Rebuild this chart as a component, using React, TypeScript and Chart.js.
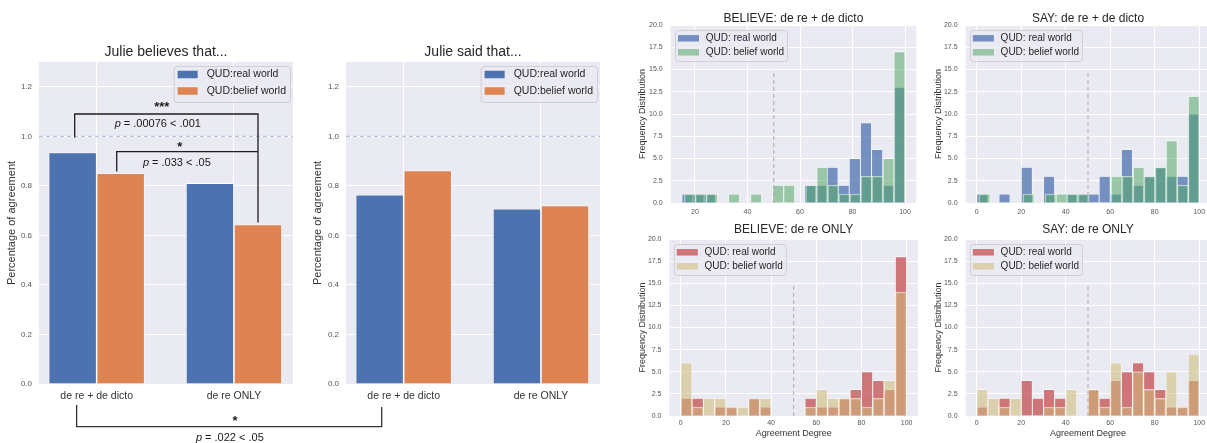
import React, { useEffect, useRef } from 'react';
import { Chart, registerables } from 'chart.js';

Chart.register(...registerables);

const FONT = '"Liberation Sans", Arial, Helvetica, sans-serif';
Chart.defaults.font.family = FONT;

// ---------------- data ----------------
const CATEGORIES = ['de re + de dicto', 'de re ONLY'];
const BAR_SERIES = ['QUD:real world', 'QUD:belief world'];
const BAR_TITLES = ['Julie believes that...', 'Julie said that...'];
const BELIEVE_REAL = [0.935, 0.811];
const BELIEVE_BELIEF = [0.851, 0.644];
const SAY_REAL = [0.764, 0.708];
const SAY_BELIEF = [0.862, 0.721];
const BAR_Y_TICKS = [0, 0.2, 0.4, 0.6, 0.8, 1.0, 1.2];
const BAR_Y_MAX = 1.3;
const FULL_AGREEMENT = 1.0;

const HIST_SERIES = ['QUD: real world', 'QUD: belief world'];
const HIST_TITLES = ['BELIEVE: de re + de dicto', 'SAY: de re + de dicto', 'BELIEVE: de re ONLY', 'SAY: de re ONLY'];
const HIST_Y_TICKS = [0, 2.5, 5, 7.5, 10, 12.5, 15, 17.5, 20];
const HIST_X_TICKS_BELIEVE_BOTH = [20, 40, 60, 80, 100];
const HIST_X_TICKS = [0, 20, 40, 60, 80, 100];
const MIDPOINT = 50;
const MIDLINE_TOP = 15;

// 20 bins per series; range = [min, max] rating of that series
const BELIEVE_BOTH_REAL_RANGE = [15, 100];
const BELIEVE_BOTH_REAL = [1, 1, 1, 0, 0, 0, 0, 0, 0, 0, 0, 2, 2, 4, 2, 5, 9, 6, 2, 13];
const BELIEVE_BOTH_BELIEF_RANGE = [16, 100];
const BELIEVE_BOTH_BELIEF = [1, 1, 1, 0, 1, 0, 1, 0, 2, 2, 0, 2, 4, 2, 1, 1, 3, 3, 5, 17];
const SAY_BOTH_REAL_RANGE = [0, 100];
const SAY_BOTH_REAL = [1, 0, 1, 0, 4, 0, 3, 0, 1, 1, 1, 3, 1, 6, 2, 3, 4, 3, 3, 10];
const SAY_BOTH_BELIEF_RANGE = [1, 100];
const SAY_BOTH_BELIEF = [1, 0, 0, 0, 1, 0, 1, 1, 1, 1, 0, 0, 3, 3, 4, 3, 4, 7, 2, 12];
const BELIEVE_ONLY_REAL_RANGE = [0, 100];
const BELIEVE_ONLY_REAL = [2, 2, 0, 1, 1, 0, 2, 1, 0, 0, 0, 2, 1, 1, 2, 3, 5, 4, 3, 18];
const BELIEVE_ONLY_BELIEF_RANGE = [0, 100];
const BELIEVE_ONLY_BELIEF = [6, 1, 2, 2, 1, 1, 2, 2, 0, 0, 0, 1, 3, 2, 2, 2, 1, 2, 4, 14];
const SAY_ONLY_REAL_RANGE = [0, 100];
const SAY_ONLY_REAL = [1, 0, 2, 0, 4, 2, 3, 2, 0, 0, 3, 2, 4, 5, 6, 5, 3, 1, 1, 4];
const SAY_ONLY_BELIEF_RANGE = [0, 100];
const SAY_ONLY_BELIEF = [3, 2, 1, 2, 0, 0, 1, 1, 3, 0, 3, 1, 6, 1, 5, 3, 2, 5, 1, 7];

const SIG_STARS = ['***', '*', '*'];
const SIG_P = ['.00076 < .001', '.033 < .05', '.022 < .05'];

// ---------------- layout / style ----------------
const BOXES: any = {
  c1: { x: 0, y: 0, w: 300, h: 410, l: 39, t: 62, r: 293, b: 384 },
  c2: { x: 300, y: 0, w: 305, h: 410, l: 346, t: 62, r: 600, b: 384 },
  h1: { x: 610, y: 0, w: 310, h: 222, l: 670.7, t: 25, r: 916.2, b: 203 },
  h2: { x: 915, y: 0, w: 300, h: 222, l: 965.6, t: 25, r: 1210.4, b: 203 },
  h3: { x: 610, y: 222, w: 310, h: 221, l: 669.5, t: 239, r: 917.9, b: 416 },
  h4: { x: 915, y: 222, w: 300, h: 221, l: 965.6, t: 239, r: 1210.4, b: 416 },
};
const PANEL_IDS = ['c1', 'c2', 'h1', 'h2', 'h3', 'h4'];
const BAR_X_LIM = [-0.42, 1.43];
const BG = '#EAEAF2';
const BLUE = '#4C72B0';
const ORANGE = '#DD8452';
const H_BLUE = 'rgba(76,114,176,0.75)';
const H_GREEN = 'rgba(85,168,104,0.55)';
const H_RED = 'rgba(196,78,82,0.75)';
const H_BEIGE = 'rgba(204,185,116,0.55)';

const BAR_LEGEND = { fs: 10.5, padL: 4, sw: 20, sh: 7.5, gap: 9, padR: 4, h: 36, first: 8.5, rowH: 16.5, top: 4, inset: 3, side: 'right' };
const HIST_LEGEND = { fs: 10, padL: 3, sw: 21, sh: 6.5, gap: 6.7, padR: 3, h: 31, first: 8.3, rowH: 14, top: 5, inset: 4.3, side: 'left' };

function drawLegend(chart: any, L: any) {
  const { ctx, chartArea: a } = chart;
  const ds = chart.data.datasets;
  ctx.save();
  ctx.font = `${L.fs}px ${FONT}`;
  const tw = Math.max(...ds.map((d: any) => ctx.measureText(d.label).width));
  const w = L.padL + L.sw + L.gap + tw + L.padR;
  const x0 = L.side === 'right' ? a.right - L.inset - w : a.left + L.inset;
  const y0 = a.top + L.top;
  ctx.beginPath();
  if (ctx.roundRect) ctx.roundRect(x0 + 0.5, y0 + 0.5, w, L.h, 3);
  else ctx.rect(x0 + 0.5, y0 + 0.5, w, L.h);
  ctx.fillStyle = 'rgba(234,234,242,0.8)';
  ctx.fill();
  ctx.strokeStyle = '#cfcfd4';
  ctx.lineWidth = 1;
  ctx.stroke();
  ds.forEach((d: any, i: number) => {
    const cy = y0 + L.first + i * L.rowH;
    ctx.fillStyle = d.backgroundColor;
    ctx.fillRect(x0 + L.padL, cy - L.sh / 2, L.sw, L.sh);
    ctx.fillStyle = '#262626';
    ctx.textAlign = 'left';
    ctx.textBaseline = 'middle';
    ctx.fillText(d.label, x0 + L.padL + L.sw + L.gap, cy);
  });
  ctx.restore();
}

function decor(cfg: any) {
  return {
    id: 'decor',
    beforeDraw(chart: any) {
      const { ctx, chartArea: a } = chart;
      ctx.save();
      ctx.fillStyle = BG;
      ctx.fillRect(a.left, a.top, a.right - a.left, a.bottom - a.top);
      ctx.fillStyle = '#262626';
      ctx.font = `${cfg.titleSize}px ${FONT}`;
      ctx.textAlign = 'center';
      ctx.textBaseline = 'middle';
      ctx.fillText(cfg.title, (a.left + a.right) / 2, cfg.titleY);
      ctx.restore();
    },
    afterDatasetsDraw(chart: any) {
      const { ctx, chartArea: a, scales } = chart;
      ctx.save();
      ctx.setLineDash([4, 3]);
      ctx.lineWidth = 1;
      ctx.beginPath();
      if (cfg.hLine !== undefined) {
        const y = scales.y.getPixelForValue(cfg.hLine);
        ctx.strokeStyle = '#a3b2d8';
        ctx.moveTo(a.left, y);
        ctx.lineTo(a.right, y);
      }
      if (cfg.vLine !== undefined) {
        const x = scales.x.getPixelForValue(cfg.vLine);
        ctx.strokeStyle = '#a9a9ad';
        ctx.moveTo(x, scales.y.getPixelForValue(0));
        ctx.lineTo(x, scales.y.getPixelForValue(cfg.vTop));
      }
      ctx.stroke();
      ctx.restore();
    },
    afterDraw(chart: any) {
      drawLegend(chart, cfg.legend);
    },
  };
}

function barChart(canvas: HTMLCanvasElement, box: any, title: string, real: number[], belief: number[], yTitlePad: number) {
  const mk = (v: number[]) => v.map((y, i) => ({ x: i, y }));
  const common = { borderColor: '#ffffff', borderWidth: 0.8, categoryPercentage: 0.7, barPercentage: 1 };
  return new Chart(canvas, {
    type: 'bar',
    data: {
      datasets: [
        { label: BAR_SERIES[0], data: mk(real), backgroundColor: BLUE, ...common },
        { label: BAR_SERIES[1], data: mk(belief), backgroundColor: ORANGE, ...common },
      ],
    } as any,
    options: {
      responsive: false,
      animation: false,
      devicePixelRatio: 1,
      layout: { padding: { left: 0, top: box.t - box.y, right: box.x + box.w - box.r, bottom: 0 } },
      scales: {
        x: {
          type: 'linear', min: BAR_X_LIM[0], max: BAR_X_LIM[1], offset: false,
          afterBuildTicks: (s: any) => { s.ticks = CATEGORIES.map((_, i) => ({ value: i })); },
          grid: { color: '#ffffff', lineWidth: 1, drawTicks: false, offset: false },
          border: { display: false },
          ticks: { padding: 5.7, color: '#333333', font: { size: 10.5 }, maxRotation: 0, autoSkip: false, callback: (v: any) => CATEGORIES[v] ?? '' },
          afterFit: (s: any) => { s.height = box.y + box.h - box.b; },
        },
        y: {
          type: 'linear', min: 0, max: BAR_Y_MAX,
          afterBuildTicks: (s: any) => { s.ticks = BAR_Y_TICKS.map((v) => ({ value: v })); },
          grid: { color: '#ffffff', lineWidth: 1, drawTicks: false },
          border: { display: false },
          ticks: { padding: 7, color: '#555555', font: { size: 8 }, callback: (v: any) => Number(v).toFixed(1) },
          title: { display: true, text: 'Percentage of agreement', color: '#333333', font: { size: 11 }, padding: { top: yTitlePad, bottom: 0 } },
          afterFit: (s: any) => { s.width = box.l - box.x; },
        },
      },
      plugins: { legend: { display: false }, tooltip: { enabled: false }, title: { display: false } },
    } as any,
    plugins: [decor({ title, titleY: 52 - box.y, titleSize: 14, hLine: FULL_AGREEMENT, legend: BAR_LEGEND })],
  });
}

function binData(counts: number[], range: number[]) {
  const w = (range[1] - range[0]) / counts.length;
  return counts.map((c, i) => ({ x: range[0] + w * (i + 0.5), y: c }));
}

function histChart(canvas: HTMLCanvasElement, box: any, cfg: any) {
  const lo = Math.min(cfg.realRange[0], cfg.beliefRange[0]);
  const hi = Math.max(cfg.realRange[1], cfg.beliefRange[1]);
  const m = (hi - lo) * 0.05;
  const xmin = lo - m;
  const xmax = hi + m;
  const setTicks = (s: any) => { s.ticks = cfg.xTicks.map((v: number) => ({ value: v })); };
  const common = { grouped: false, categoryPercentage: 1, barPercentage: 1, borderColor: 'rgba(255,255,255,0.65)', borderWidth: 0.8 };
  return new Chart(canvas, {
    type: 'bar',
    data: {
      datasets: [
        { label: HIST_SERIES[0], data: binData(cfg.real, cfg.realRange), xAxisID: 'x', backgroundColor: cfg.colors[0], order: 2, ...common },
        { label: HIST_SERIES[1], data: binData(cfg.belief, cfg.beliefRange), xAxisID: 'x2', backgroundColor: cfg.colors[1], order: 1, ...common },
      ],
    } as any,
    options: {
      responsive: false,
      animation: false,
      devicePixelRatio: 1,
      layout: { padding: { left: 0, top: box.t - box.y, right: box.x + box.w - box.r, bottom: 0 } },
      scales: {
        x: {
          type: 'linear', min: xmin, max: xmax, offset: false, position: 'bottom',
          afterBuildTicks: setTicks,
          grid: { color: '#ffffff', lineWidth: 1, drawTicks: false, offset: false },
          border: { display: false },
          ticks: { padding: cfg.xTickPad, color: '#555555', font: { size: 7 }, maxRotation: 0, autoSkip: false, callback: (v: any) => String(v) },
          title: { display: !!cfg.xTitle, text: cfg.xTitle || '', color: '#333333', font: { size: 9 }, padding: { top: 0, bottom: 3.6 } },
          afterFit: (s: any) => { s.height = box.y + box.h - box.b; },
        },
        x2: {
          type: 'linear', min: xmin, max: xmax, offset: false, display: false,
          afterBuildTicks: setTicks,
          grid: { display: false },
        },
        y: {
          type: 'linear', min: 0, max: 20,
          afterBuildTicks: (s: any) => { s.ticks = HIST_Y_TICKS.map((v) => ({ value: v })); },
          grid: { color: '#ffffff', lineWidth: 1, drawTicks: false },
          border: { display: false },
          ticks: { padding: 8, color: '#555555', font: { size: 7 }, callback: (v: any) => Number(v).toFixed(1) },
          title: { display: true, text: 'Frequency Distribution', color: '#333333', font: { size: 9 }, padding: { top: cfg.yTitlePad, bottom: 0 } },
          afterFit: (s: any) => { s.width = box.l - box.x; },
        },
      },
      plugins: { legend: { display: false }, tooltip: { enabled: false }, title: { display: false } },
    } as any,
    plugins: [decor({ title: cfg.title, titleY: cfg.titleY - box.y, titleSize: 12, vLine: MIDPOINT, vTop: MIDLINE_TOP, legend: HIST_LEGEND })],
  });
}

function pText(ctx: CanvasRenderingContext2D, cx: number, cy: number, rest: string, fs: number) {
  ctx.font = `italic ${fs}px ${FONT}`;
  const wp = ctx.measureText('p').width;
  const tail = ' = ' + rest;
  ctx.font = `${fs}px ${FONT}`;
  const wt = ctx.measureText(tail).width;
  const x = cx - (wp + wt) / 2;
  ctx.textAlign = 'left';
  ctx.textBaseline = 'middle';
  ctx.font = `italic ${fs}px ${FONT}`;
  ctx.fillText('p', x, cy);
  ctx.font = `${fs}px ${FONT}`;
  ctx.fillText(tail, x + wp, cy);
}

function stars(ctx: CanvasRenderingContext2D, cx: number, cy: number, s: string) {
  const fs = 13;
  ctx.font = `bold ${fs}px ${FONT}`;
  ctx.textAlign = 'center';
  ctx.textBaseline = 'alphabetic';
  ctx.fillText(s, cx, cy + fs * 0.55);
}

function drawAnnotations(ctx: CanvasRenderingContext2D, c1: any, c2: any) {
  const b1 = BOXES.c1;
  const b2 = BOXES.c2;
  const X1 = (v: number) => b1.x + c1.scales.x.getPixelForValue(v);
  const Y1 = (v: number) => b1.y + c1.scales.y.getPixelForValue(v);
  const X2 = (v: number) => b2.x + c2.scales.x.getPixelForValue(v);
  ctx.save();
  ctx.strokeStyle = '#1e1e1e';
  ctx.lineWidth = 1.3;
  ctx.beginPath();
  // de re + de dicto (real) vs de re ONLY (belief)
  ctx.moveTo(X1(-0.16), Y1(0.995));
  ctx.lineTo(X1(-0.16), Y1(1.09));
  ctx.lineTo(X1(1.175), Y1(1.09));
  ctx.lineTo(X1(1.175), Y1(0.652));
  // de re + de dicto (belief) vs de re ONLY (belief)
  ctx.moveTo(X1(0.146), Y1(0.858));
  ctx.lineTo(X1(0.146), Y1(0.938));
  ctx.lineTo(X1(1.175), Y1(0.938));
  ctx.stroke();
  ctx.strokeStyle = '#333333';
  ctx.beginPath();
  ctx.moveTo(X1(-0.146), Y1(-0.085));
  ctx.lineTo(X1(-0.146), Y1(-0.172));
  ctx.lineTo(X2(-0.16), Y1(-0.172));
  ctx.lineTo(X2(-0.16), Y1(-0.093));
  ctx.stroke();
  ctx.fillStyle = '#1a1a1a';
  stars(ctx, X1(0.474), Y1(1.13), SIG_STARS[0]);
  pText(ctx, X1(0.445), Y1(1.051), SIG_P[0], 11);
  stars(ctx, X1(0.606), Y1(0.97), SIG_STARS[1]);
  pText(ctx, X1(0.584), Y1(0.894), SIG_P[1], 11);
  stars(ctx, X1(1.007), Y1(-0.137), SIG_STARS[2]);
  pText(ctx, X1(0.97), Y1(-0.217), SIG_P[2], 11);
  ctx.restore();
}

export default function App() {
  const refs = useRef<Record<string, HTMLCanvasElement | null>>({});
  const overlay = useRef<HTMLCanvasElement | null>(null);

  useEffect(() => {
    const r = refs.current;
    const charts: any[] = [];
    const c1 = barChart(r.c1!, BOXES.c1, BAR_TITLES[0], BELIEVE_REAL, BELIEVE_BELIEF, 5.4);
    const c2 = barChart(r.c2!, BOXES.c2, BAR_TITLES[1], SAY_REAL, SAY_BELIEF, 11.4);
    charts.push(c1, c2);
    charts.push(histChart(r.h1!, BOXES.h1, {
      title: HIST_TITLES[0], titleY: 19, real: BELIEVE_BOTH_REAL, realRange: BELIEVE_BOTH_REAL_RANGE,
      belief: BELIEVE_BOTH_BELIEF, beliefRange: BELIEVE_BOTH_BELIEF_RANGE, xTicks: HIST_X_TICKS_BELIEVE_BOTH,
      colors: [H_BLUE, H_GREEN], xTickPad: 4.8, yTitlePad: 26.9,
    }));
    charts.push(histChart(r.h2!, BOXES.h2, {
      title: HIST_TITLES[1], titleY: 19, real: SAY_BOTH_REAL, realRange: SAY_BOTH_REAL_RANGE,
      belief: SAY_BOTH_BELIEF, beliefRange: SAY_BOTH_BELIEF_RANGE, xTicks: HIST_X_TICKS,
      colors: [H_BLUE, H_GREEN], xTickPad: 4.8, yTitlePad: 17.9,
    }));
    charts.push(histChart(r.h3!, BOXES.h3, {
      title: HIST_TITLES[2], titleY: 230, real: BELIEVE_ONLY_REAL, realRange: BELIEVE_ONLY_REAL_RANGE,
      belief: BELIEVE_ONLY_BELIEF, beliefRange: BELIEVE_ONLY_BELIEF_RANGE, xTicks: HIST_X_TICKS,
      colors: [H_RED, H_BEIGE], xTickPad: 3.3, yTitlePad: 26.9, xTitle: 'Agreement Degree',
    }));
    charts.push(histChart(r.h4!, BOXES.h4, {
      title: HIST_TITLES[3], titleY: 230, real: SAY_ONLY_REAL, realRange: SAY_ONLY_REAL_RANGE,
      belief: SAY_ONLY_BELIEF, beliefRange: SAY_ONLY_BELIEF_RANGE, xTicks: HIST_X_TICKS,
      colors: [H_RED, H_BEIGE], xTickPad: 3.3, yTitlePad: 17.9, xTitle: 'Agreement Degree',
    }));

    const oc = overlay.current!;
    const octx = oc.getContext('2d')!;
    octx.clearRect(0, 0, oc.width, oc.height);
    drawAnnotations(octx, c1, c2);

    return () => {
      charts.forEach((c) => c.destroy());
      octx.clearRect(0, 0, oc.width, oc.height);
    };
  }, []);

  return (
    <div style={{ position: 'relative', width: 1207, height: 443, overflow: 'hidden', background: '#ffffff' }}>
      <style>{'html,body{margin:0;padding:0;overflow:hidden;background:#ffffff;}'}</style>
      {PANEL_IDS.map((id) => {
        const b = BOXES[id];
        return (
          <canvas
            key={id}
            ref={(el) => { refs.current[id] = el; }}
            width={b.w}
            height={b.h}
            style={{ position: 'absolute', left: b.x, top: b.y, width: b.w, height: b.h }}
          />
        );
      })}
      <canvas
        ref={overlay}
        width={1207}
        height={443}
        style={{ position: 'absolute', left: 0, top: 0, width: 1207, height: 443, pointerEvents: 'none' }}
      />
    </div>
  );
}
